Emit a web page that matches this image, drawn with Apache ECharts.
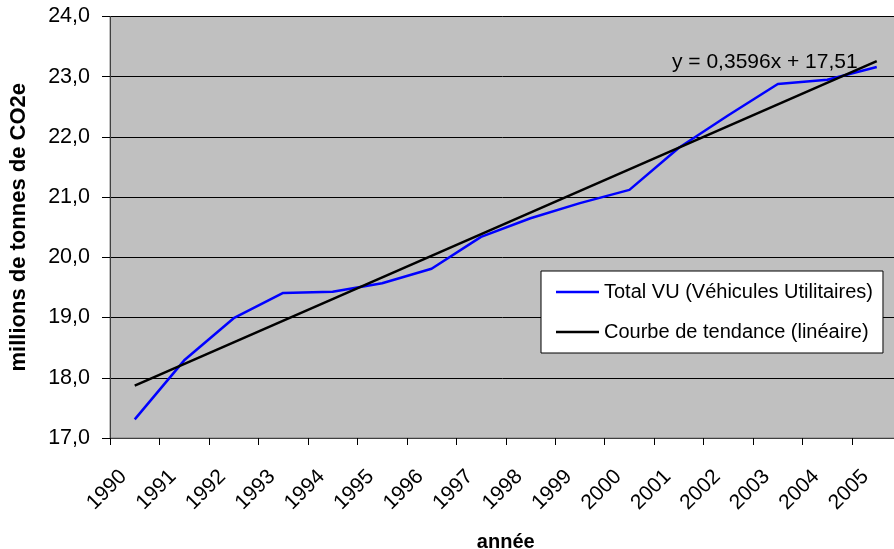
<!DOCTYPE html>
<html>
<head>
<meta charset="utf-8">
<script src="https://cdn.jsdelivr.net/npm/echarts@6/dist/echarts.min.js"></script>
<style>html,body{margin:0;padding:0;background:#fff}#c{width:894px;height:549px}</style>
</head>
<body>
<div id="c"></div>
<script>
const years = ['1990','1991','1992','1993','1994','1995','1996','1997','1998','1999','2000','2001','2002','2003','2004','2005'];
const totalVU = [17.31, 18.29, 18.99, 19.41, 19.43, 19.57, 19.81, 20.34, 20.65, 20.90, 21.12, 21.82, 22.36, 22.88, 22.95, 23.16];
// trend line endpoints (first and last year)
const trend = [17.87, null, null, null, null, null, null, null, null, null, null, null, null, null, null, 23.26];
const seriesNames = ['Total VU (Véhicules Utilitaires)', 'Courbe de tendance (linéaire)'];
const equation = 'y = 0,3596x + 17,51';
const yTitle = 'millions de tonnes de CO2e';
const xTitle = 'année';

const FONT = '"Liberation Sans", Arial, sans-serif';
const chart = echarts.init(document.getElementById('c'), null, {renderer: 'canvas'});
chart.setOption({
  animation: false,
  textStyle: {fontFamily: FONT},
  grid: {left: 110, right: -7.5, top: 16.5, bottom: 111, containLabel: false, outerBoundsMode: 'none', show: true, backgroundColor: '#C0C0C0', borderColor: '#808080', borderWidth: 1},
  xAxis: {
    type: 'category', data: years, boundaryGap: true,
    name: xTitle, nameLocation: 'middle', nameGap: 94,
    nameTextStyle: {fontFamily: FONT, fontSize: 20, fontWeight: 'bold', color: '#000'},
    axisLine: {lineStyle: {color: '#404040', width: 1}},
    axisTick: {show: true, length: 7, inside: false, lineStyle: {color: '#000'}},
    axisLabel: {rotate: 45, margin: 24, padding: [0, 16, 0, 0], fontFamily: FONT, fontSize: 21, color: '#000', interval: 0},
    splitLine: {show: false}
  },
  yAxis: {
    type: 'value', min: 17, max: 24, interval: 1,
    name: yTitle, nameLocation: 'middle', nameGap: 80, nameRotate: 90,
    nameTextStyle: {fontFamily: FONT, fontSize: 22, fontWeight: 'bold', color: '#000'},
    axisLine: {show: true, lineStyle: {color: '#404040', width: 1}},
    axisTick: {show: true, length: 8, lineStyle: {color: '#000'}},
    axisLabel: {margin: 20, fontFamily: FONT, fontSize: 21.5, color: '#000', formatter: v => v.toFixed(1).replace('.', ',')},
    splitLine: {show: true, lineStyle: {color: '#000', width: 1}}
  },
  legend: {
    orient: 'vertical', left: 541, top: 271,
    backgroundColor: '#fff', borderColor: '#000', borderWidth: 1,
    padding: [11, 10, 11, 15], itemGap: 20, itemWidth: 43, itemHeight: 2.5, icon: 'rect',
    textStyle: {fontFamily: FONT, fontSize: 20, lineHeight: 20, color: '#000'},
    data: seriesNames
  },
  graphic: [{
    type: 'text', left: 672, top: 52,
    style: {text: equation, font: '21px ' + FONT, fill: '#000'}
  }],
  series: [
    {name: seriesNames[0], type: 'line', data: totalVU, symbol: 'none', lineStyle: {color: '#0000FF', width: 2.5}, itemStyle: {color: '#0000FF'}},
    {name: seriesNames[1], type: 'line', data: trend, connectNulls: true, symbol: 'none', lineStyle: {color: '#000', width: 2.5}, itemStyle: {color: '#000'}, z: 3}
  ]
});
</script>
</body>
</html>
